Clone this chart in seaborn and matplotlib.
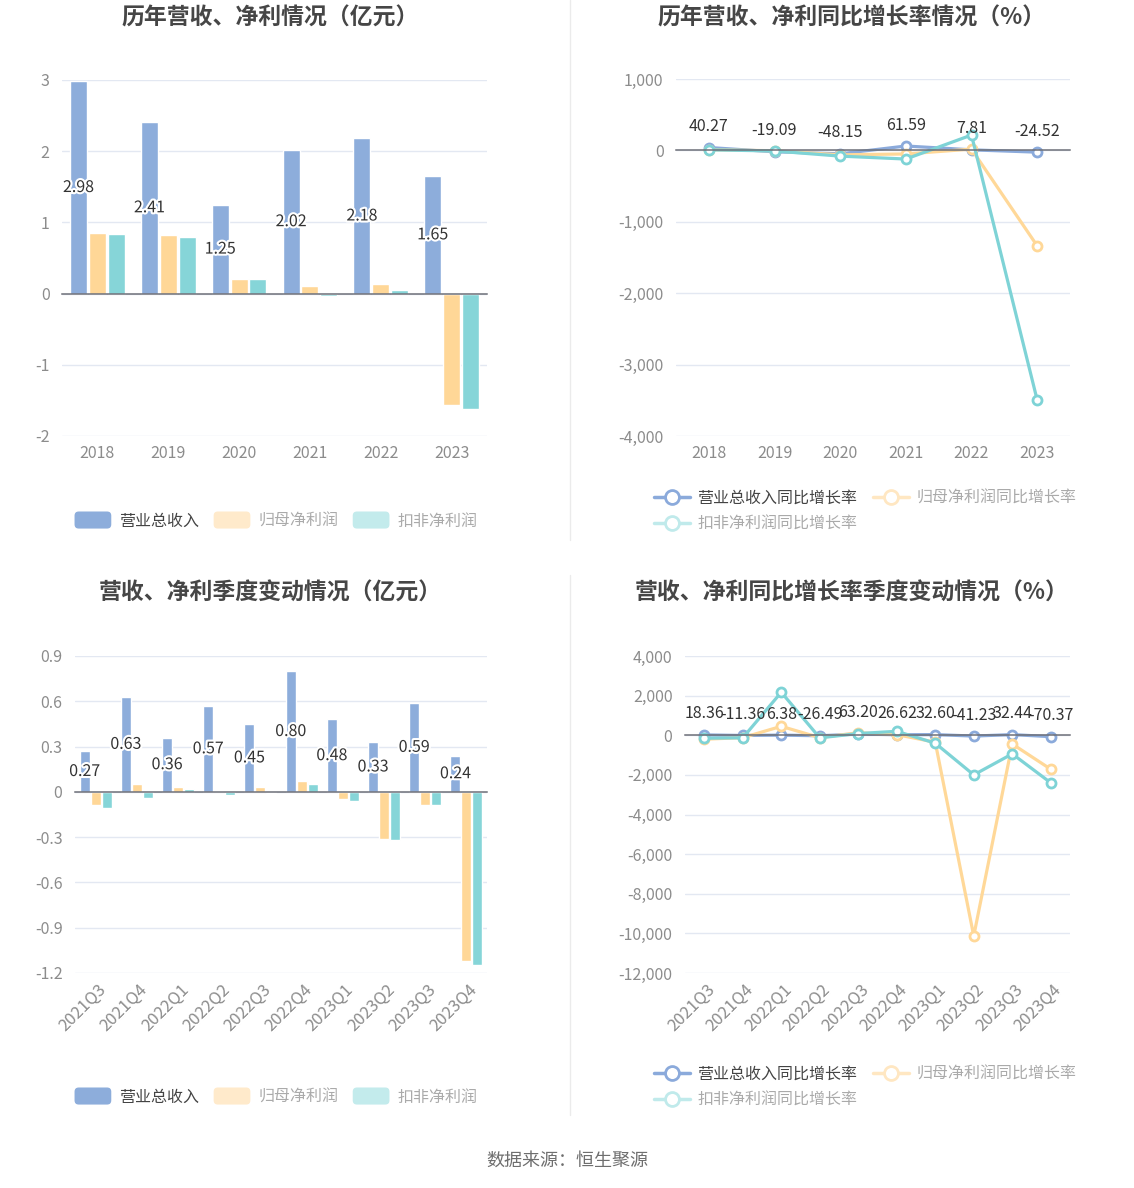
import numpy as np
import pandas as pd
import matplotlib
matplotlib.use("Agg")
import matplotlib.pyplot as plt
import matplotlib.patheffects as pe
import matplotlib.transforms as mtransforms
from matplotlib.lines import Line2D
from matplotlib.patches import Patch, FancyBboxPatch
from matplotlib.legend_handler import HandlerPatch
from matplotlib.ticker import FuncFormatter
import seaborn as sns

# ============================================
# DADOS
# ============================================

anos = ["2018", "2019", "2020", "2021", "2022", "2023"]
receita_ano = [2.98, 2.41, 1.25, 2.02, 2.18, 1.65]
lucro_ano = [0.85, 0.82, 0.21, 0.11, 0.13, -1.56]
lucro_ded_ano = [0.84, 0.79, 0.21, -0.04, 0.05, -1.62]

cresc_receita_ano = [40.27, -19.09, -48.15, 61.59, 7.81, -24.52]
cresc_lucro_ano = [10, -5, -62, -50, 18, -1336]
cresc_lucro_ded_ano = [8, -8, -80, -121, 215, -3495]

trimestres = ["2021Q3", "2021Q4", "2022Q1", "2022Q2", "2022Q3",
              "2022Q4", "2023Q1", "2023Q2", "2023Q3", "2023Q4"]
receita_tri = [0.27, 0.63, 0.36, 0.57, 0.45, 0.80, 0.48, 0.33, 0.59, 0.24]
lucro_tri = [-0.09, 0.05, 0.03, 0.004, 0.03, 0.07, -0.05, -0.31, -0.09, -1.12]
lucro_ded_tri = [-0.11, -0.04, 0.02, -0.02, -0.01, 0.05, -0.06, -0.32, -0.09, -1.15]

cresc_receita_tri = [18.36, -11.36, 6.38, -26.49, 63.20, 26.62, 32.60, -41.23, 32.44, -70.37]
cresc_lucro_tri = [-200, -120, 450, -120, 130, 30, -350, -10130, -440, -1715]
cresc_lucro_ded_tri = [-150, -130, 2170, -130, 85, 200, -400, -2000, -940, -2400]

series_bar = ["营业总收入", "归母净利润", "扣非净利润"]
series_line = ["营业总收入同比增长率", "归母净利润同比增长率", "扣非净利润同比增长率"]

# ============================================
# ESTILO
# ============================================

sns.set_style("white")
plt.rcParams["font.family"] = ["Noto Sans CJK SC", "DejaVu Sans"]
plt.rcParams["axes.unicode_minus"] = False

AZUL = "#8DADDB"
LARANJA = "#FFD797"
VERDE = "#86D5D8"
AZUL_L = "#8BAADB"
LARANJA_L = "#FFD898"
VERDE_L = "#7ED3D6"
CORES_BAR = [AZUL, LARANJA, VERDE]
CORES_LIN = [AZUL_L, LARANJA_L, VERDE_L]
GRID = "#E3E8F2"
EIXO = "#6E7079"
TXT_TICK = "#8C8C8C"

fig = plt.figure(figsize=(11.34, 11.88), dpi=100)
W, H = 1134, 1188


def caixa(x0, y0, x1, y1):
    return [x0 / W, 1 - y1 / H, (x1 - x0) / W, (y1 - y0) / H]


def estilo_eixo(ax, ticks, fmt):
    ax.set_yticks(ticks)
    ax.set_ylim(ticks[0], ticks[-1])
    ax.yaxis.set_major_formatter(FuncFormatter(fmt))
    ax.grid(axis="y", color=GRID, lw=1)
    ax.set_axisbelow(True)
    for s in ["top", "right", "left"]:
        ax.spines[s].set_visible(False)
    ax.spines["bottom"].set_position(("data", 0))
    ax.spines["bottom"].set_color(EIXO)
    ax.spines["bottom"].set_linewidth(1.1)
    ax.tick_params(axis="y", length=0, pad=9, labelsize=11.5, labelcolor=TXT_TICK)
    ax.tick_params(axis="x", length=5, width=1, color=EIXO, direction="out",
                   labelbottom=False)
    ax.set_xlabel("")
    ax.set_ylabel("")


def rotulos_x(ax, cats, rot=0):
    trans = mtransforms.blended_transform_factory(ax.transData, ax.transAxes)
    for i, c in enumerate(cats):
        if rot:
            ax.text(i + 0.05, -0.025, c, transform=trans, rotation=rot, ha="right",
                    va="top", rotation_mode="anchor", fontsize=12, color=TXT_TICK)
        else:
            ax.text(i, -0.025, c, transform=trans, ha="center", va="top",
                    fontsize=11.5, color=TXT_TICK)


def barras(ax, cats, v1, v2, v3, ticks, rot=0):
    df = pd.DataFrame({
        "cat": cats * 3,
        "serie": np.repeat(series_bar, len(cats)),
        "valor": list(v1) + list(v2) + list(v3),
    })
    sns.barplot(data=df, x="cat", y="valor", hue="serie", hue_order=series_bar,
                palette=CORES_BAR, saturation=1, width=0.8, gap=0.1,
                legend=False, ax=ax, errorbar=None)
    ax.set_xlim(-0.5, len(cats) - 0.5)
    estilo_eixo(ax, ticks, lambda v, p: f"{v:g}")
    ax.bar_label(ax.containers[0], labels=[f"{v:.2f}" for v in v1], label_type="center",
                 fontsize=11.5, color="#333333",
                 path_effects=[pe.withStroke(linewidth=3, foreground="white")])
    rotulos_x(ax, cats, rot)


def linhas(ax, cats, v1, v2, v3, ticks, rot=0):
    for vals, cor in zip([v1, v2, v3], CORES_LIN):
        sns.lineplot(x=cats, y=vals, color=cor, lw=2.3, marker="o", markersize=6.5,
                     mfc="white", mec=cor, mew=2, sort=False, ax=ax)
    ax.set_xlim(-0.5, len(cats) - 0.5)
    ax.set_xticks(range(len(cats)))
    estilo_eixo(ax, ticks, lambda v, p: f"{v:,.0f}")
    for i, v in enumerate(v1):
        ax.annotate(f"{v:.2f}", (i, v), xytext=(0, 9), textcoords="offset points",
                    ha="center", va="bottom", fontsize=11.5, color="#333333")
    rotulos_x(ax, cats, rot)


class HandlerRound(HandlerPatch):
    def create_artists(self, legend, orig_handle, xdescent, ydescent, width, height,
                       fontsize, trans):
        p = FancyBboxPatch((-xdescent, -ydescent - 1), width, height + 2,
                           boxstyle="round,pad=0,rounding_size=3",
                           facecolor=orig_handle.get_facecolor(), edgecolor="none",
                           transform=trans)
        return [p]


# ============================================
# GRAFICOS
# ============================================

ax1 = fig.add_axes(caixa(62, 80, 487, 436))
barras(ax1, anos, receita_ano, lucro_ano, lucro_ded_ano, [-2, -1, 0, 1, 2, 3])

ax2 = fig.add_axes(caixa(676, 79, 1070, 436))
linhas(ax2, anos, cresc_receita_ano, cresc_lucro_ano, cresc_lucro_ded_ano,
       [-4000, -3000, -2000, -1000, 0, 1000])

ax3 = fig.add_axes(caixa(75, 656, 487, 973))
barras(ax3, trimestres, receita_tri, lucro_tri, lucro_ded_tri,
       [-1.2, -0.9, -0.6, -0.3, 0, 0.3, 0.6, 0.9], rot=45)

ax4 = fig.add_axes(caixa(685, 656, 1070, 973))
linhas(ax4, trimestres, cresc_receita_tri, cresc_lucro_tri, cresc_lucro_ded_tri,
       [-12000, -10000, -8000, -6000, -4000, -2000, 0, 2000, 4000], rot=45)

# titulos
titulos = [
    (270, 18, "历年营收、净利情况（亿元）"),
    (852, 18, "历年营收、净利同比增长率情况（%）"),
    (270, 593, "营收、净利季度变动情况（亿元）"),
    (852, 593, "营收、净利同比增长率季度变动情况（%）"),
]
for x, y, t in titulos:
    fig.text(x / W, 1 - y / H, t, ha="center", va="center", fontsize=16.5,
             fontweight="bold", color="#464646")

# legendas
fade_bar = [AZUL, "#FFEACB", "#C3EBEC"]
fade_lin = [AZUL_L, "#FFE7C2", "#C0EAEB"]
txt_cor = ["#444444", "#AAAAAA", "#AAAAAA"]

for yc in [521, 1097]:
    hs = [Patch(facecolor=c, edgecolor="none") for c in fade_bar]
    lg = fig.legend(hs, series_bar, loc="center", bbox_to_anchor=(276 / W, 1 - yc / H),
                    ncol=3, frameon=False, fontsize=11.5, handlelength=2.3,
                    handleheight=1.0, columnspacing=0.9, handletextpad=0.5,
                    handler_map={Patch: HandlerRound()})
    for t, c in zip(lg.get_texts(), txt_cor):
        t.set_color(c)

# ordem por coluna para preencher as linhas: [azul, laranja] / [verde]
ordem = [0, 2, 1]
for yc in [491, 1067]:
    hs = [Line2D([], [], color=fade_lin[i], lw=2.5, marker="o", markersize=10,
                 mfc="white", mec=fade_lin[i], mew=2) for i in ordem]
    lg = fig.legend(hs, [series_line[i] for i in ordem], loc="upper left",
                    bbox_to_anchor=(640 / W, 1 - (yc - 16) / H), ncol=2, frameon=False,
                    fontsize=11.5, handlelength=2.2, columnspacing=1.0,
                    handletextpad=0.5, labelspacing=0.6)
    for t, i in zip(lg.get_texts(), ordem):
        t.set_color(txt_cor[i])

# separadores
for y0, y1 in [(0, 540), (575, 1115)]:
    fig.add_artist(Line2D([570 / W, 570 / W], [1 - y0 / H, 1 - y1 / H],
                          color="#EBEBEB", lw=1))

fig.text(567 / W, 1 - 1161 / H, "数据来源：恒生聚源", ha="center", va="center",
         fontsize=13, color="#6E6E6E")

plt.savefig("out.png", dpi=100)
plt.close()
